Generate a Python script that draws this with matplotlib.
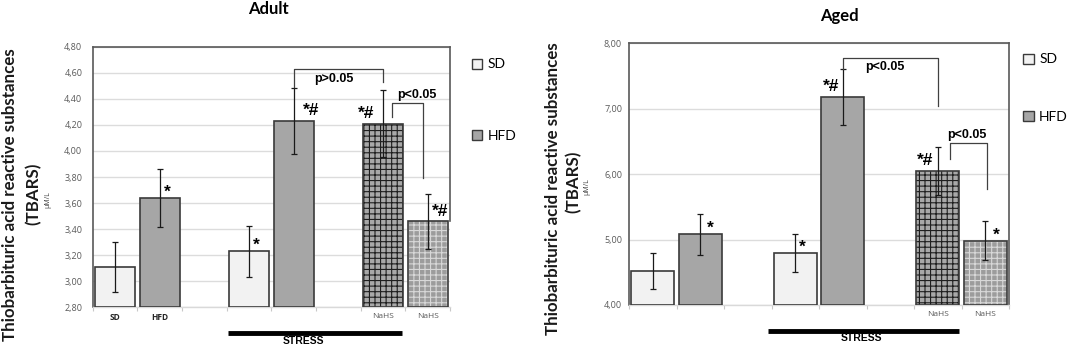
import numpy as np
import matplotlib.pyplot as plt
from matplotlib.patches import Patch

# bar slots (0..7), gaps at 2 and 5
slots = [0, 1, 3, 4, 6, 7]

adult_mean = [3.11, 3.64, 3.23, 4.23, 4.21, 3.46]
adult_err = [0.19, 0.22, 0.195, 0.255, 0.255, 0.21]
aged_mean = [4.52, 5.08, 4.79, 7.18, 6.05, 4.98]
aged_err = [0.27, 0.31, 0.29, 0.43, 0.365, 0.30]

adult_marks = ['', '*', '*', '*#', '*#', '*#']
aged_marks = ['', '*', '*', '*#', '*#', '*']

adult_yticks = [2.8, 3.0, 3.2, 3.4, 3.6, 3.8, 4.0, 4.2, 4.4, 4.6, 4.8]
adult_yticklabels = ['2,80', '3,00', '3,20', '3,40', '3,60', '3,80',
                     '4,00', '4,20', '4,40', '4,60', '4,80']
aged_yticks = [4, 5, 6, 7, 8]
aged_yticklabels = ['4,00', '5,00', '6,00', '7,00', '8,00']

adult_xlabels = ['SD', 'HFD', '', '', '', '', 'NaHS', 'NaHS']
aged_xlabels = ['', '', '', '', '', '', 'NaHS', 'NaHS']

adult_p = ['p>0.05', 'p<0.05']
aged_p = ['p<0.05', 'p<0.05']

# style per bar: face, hatch, hatch colour
styles = [('#f2f2f2', None, None), ('#a6a6a6', None, None),
          ('#f2f2f2', None, None), ('#a6a6a6', None, None),
          ('#a8a8a8', '+++', '#1e1e1e'), ('#9c9c9c', '+++', '#d8d8d8')]

plt.rcParams['hatch.linewidth'] = 0.8
edge = '#3a3a3a'


def draw_panel(ax, mean, err, marks, mark_dx, yticks, yticklabels, xlabels,
               brackets, ptexts, ppos, stress, legend_kw, tickpad):
    for s, m, st in zip(slots, mean, styles):
        face, hatch, hcol = st
        if hatch:
            ax.bar(s, m - yticks[0], bottom=yticks[0], width=0.9, color=face,
                   hatch=hatch, edgecolor=hcol, linewidth=0, zorder=2)
            ax.bar(s, m - yticks[0], bottom=yticks[0], width=0.9, fill=False,
                   edgecolor=edge, linewidth=1.2, zorder=3)
        else:
            ax.bar(s, m - yticks[0], bottom=yticks[0], width=0.9, color=face,
                   edgecolor=edge, linewidth=1.2, zorder=3)
    ax.errorbar(slots, mean, yerr=err, fmt='none', ecolor='#1a1a1a',
                elinewidth=0.9, capsize=2.5, capthick=0.9, zorder=4)

    for s, m, t, dx in zip(slots, mean, marks, mark_dx):
        if t:
            off = 4 if '#' in t else 1
            ax.annotate(t, (s + dx, m), xytext=(0, off), textcoords='offset points',
                        ha='center', va='baseline', fontsize=12.5, fontweight='bold',
                        family='Liberation Sans', zorder=5)

    for xs, ys in brackets:
        ax.plot(xs, ys, color='#404040', lw=0.9, zorder=5)
    for t, (x, y) in zip(ptexts, ppos):
        ax.text(x, y, t, ha='center', va='center', fontsize=9, fontweight='bold',
                family='Liberation Sans', zorder=5)

    ax.set_xlim(-0.5, 7.5)
    ax.set_ylim(yticks[0], yticks[-1])
    ax.set_yticks(yticks)
    ax.set_yticklabels(yticklabels, fontsize=6.5, color='#595959', family='Open Sans')
    ax.tick_params(axis='y', length=0, pad=tickpad)
    ax.yaxis.grid(True, color='#dcdcdc', lw=1)
    ax.set_axisbelow(True)

    ax.set_xticks(range(8))
    ax.set_xticklabels(xlabels, fontsize=6, color='#595959', family='Open Sans')
    for lab in ax.get_xticklabels():
        if lab.get_text() in ('SD', 'HFD'):
            lab.set_fontweight('bold')
            lab.set_color('#262626')
    ax.tick_params(axis='x', length=0, pad=4)
    ax.set_xticks(np.arange(-0.5, 8, 1), minor=True)
    ax.tick_params(axis='x', which='minor', length=3, color='#c8c8c8', width=0.8)

    for sp in ['left', 'top', 'right']:
        ax.spines[sp].set_color('#595959')
        ax.spines[sp].set_linewidth(1.2)
    ax.spines['bottom'].set_color('#d9d9d9')
    ax.spines['bottom'].set_linewidth(1)

    tr = ax.get_xaxis_transform()
    ax.plot(stress[:2], [stress[2], stress[2]], transform=tr, clip_on=False,
            color='black', lw=3.5, solid_capstyle='butt')
    ax.text(stress[3], stress[4], 'STRESS', transform=tr, ha='center', va='center',
            fontsize=7.5, fontweight='bold', family='Liberation Sans')

    handles = [Patch(facecolor='#f2f2f2', edgecolor=edge, linewidth=1),
               Patch(facecolor='#a6a6a6', edgecolor=edge, linewidth=1)]
    ax.legend(handles, ['SD', 'HFD'], loc='upper left', frameon=False,
              handlelength=0.75, handleheight=0.75, handletextpad=0.4,
              borderpad=0, borderaxespad=0, prop={'family': 'Lato'}, **legend_kw)


fig = plt.figure(figsize=(10.72, 3.46), dpi=100)
ax1 = fig.add_axes([0.0865, 0.1118, 0.3333, 0.7532])
ax2 = fig.add_axes([0.5868, 0.1185, 0.3545, 0.7572])

draw_panel(ax1, adult_mean, adult_err, adult_marks,
           [0, 0.16, 0.17, 0.39, -0.38, 0.28],
           adult_yticks, adult_yticklabels, adult_xlabels,
           [([4, 4, 6, 6], [4.49, 4.627, 4.627, 4.531]),
            ([6.195, 6.195, 6.9, 6.9], [4.263, 4.37, 4.37, 3.79])],
           adult_p, [(4.89, 4.55), (6.755, 4.43)],
           (2.53, 6.42, -0.098, 4.22, -0.128),
           dict(bbox_to_anchor=(1.061, 0.955), fontsize=11, labelspacing=4.3),
           7.5)
ax1.spines['right'].set_bounds(adult_mean[5], adult_yticks[-1])

draw_panel(ax2, aged_mean, aged_err, aged_marks,
           [0, 0.2, 0.15, -0.25, -0.27, 0.24],
           aged_yticks, aged_yticklabels, aged_xlabels,
           [([4, 4, 6, 6], [7.61, 7.775, 7.775, 7.04]),
            ([6.26, 6.26, 7.04, 7.04], [6.23, 6.48, 6.48, 5.77])],
           aged_p, [(4.89, 7.64), (6.61, 6.595)],
           (2.43, 6.45, -0.098, 4.4, -0.127),
           dict(bbox_to_anchor=(1.037, 0.96), fontsize=12, labelspacing=3.25),
           5)

fig.text(0.2507, 0.974, 'Adult', ha='center', va='center', fontsize=12,
         fontweight='bold', family='Lato')
fig.text(0.7832, 0.954, 'Aged', ha='center', va='center', fontsize=12,
         fontweight='bold', family='Lato')

ylab = 'Thiobarbituric acid reactive substances'
for x1, y1, x2, y2, x3, y3 in [(0.0089, 0.4373, 0.0317, 0.4402, 0.0443, 0.422),
                               (0.5159, 0.4552, 0.5354, 0.474, 0.5473, 0.4604)]:
    fig.text(x1, y1, ylab, rotation=90, ha='center', va='center', fontsize=12.2,
             fontweight='bold', family='Lato', color='#1a1a1a')
    fig.text(x2, y2, '(TBARS)', rotation=90, ha='center', va='center', fontsize=12.2,
             fontweight='bold', family='Lato', color='#1a1a1a')
    fig.text(x3, y3, 'µM/L', rotation=90, ha='center', va='center', fontsize=5,
             family='Open Sans', color='#404040')

fig.savefig('out.png', dpi=100)
